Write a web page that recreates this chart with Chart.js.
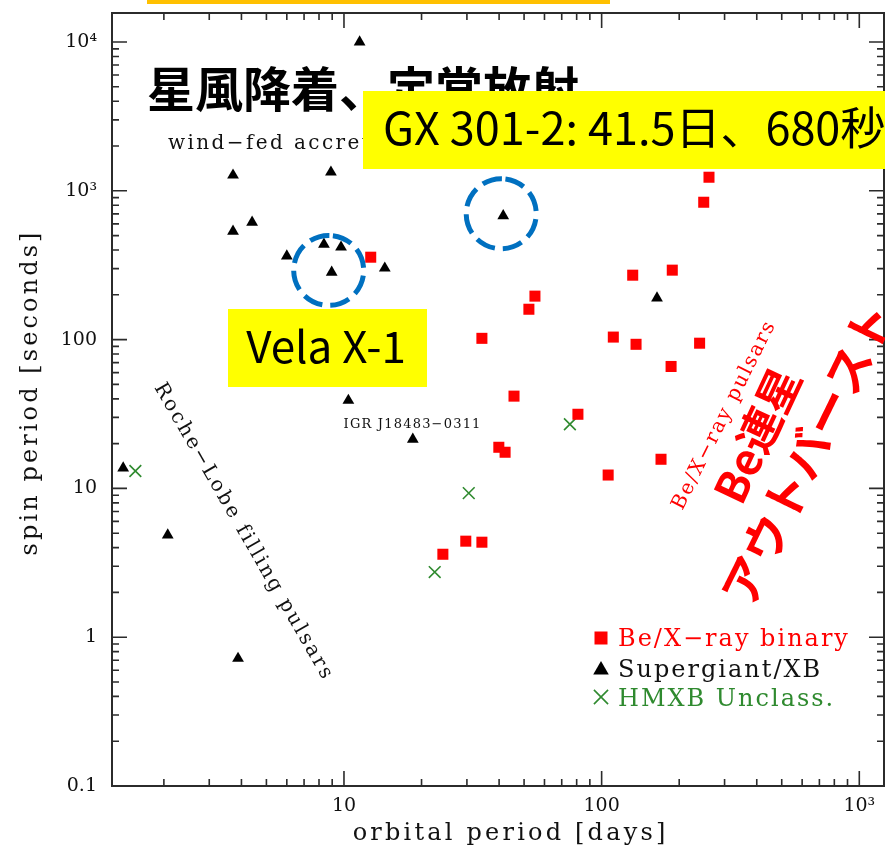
<!DOCTYPE html>
<html>
<head>
<meta charset="utf-8">
<script src="https://cdn.jsdelivr.net/npm/chart.js@4.4.1/dist/chart.umd.min.js"></script>
<style>
  html, body { margin: 0; padding: 0; background: #ffffff; overflow: hidden; }
  canvas { display: block; }
</style>
</head>
<body>
<canvas id="corbet" width="885" height="858"></canvas>
<script>
// Be/X-ray binaries: orbital period [days], spin period [s]
const beOrbit = [12.7, 261, 249, 132, 188, 55.1, 52.2, 34.3, 111, 136, 240, 186, 45.7, 80.9, 39.9, 42.2, 170, 106, 24.2, 29.7, 34.3];
const beSpin  = [358, 1234, 838, 271, 293, 196, 160, 102, 104, 93, 94.6, 66, 41.7, 31.5, 18.9, 17.5, 15.7, 12.3, 3.61, 4.42, 4.35];

// Supergiant X-ray binaries
const sgOrbit = [11.5, 3.71, 8.9, 3.71, 4.4, 6.0, 8.36, 9.74, 8.96, 14.4, 10.4, 18.5, 41.5, 164, 1.39, 2.07, 3.88];
const sgSpin  = [10000, 1273, 1334, 535, 615, 364, 437, 418, 283, 302, 39, 21.4, 680, 190, 13.7, 4.85, 0.72];

// Unclassified HMXBs
const unOrbit = [1.55, 22.5, 30.5, 75.3];
const unSpin  = [13.1, 2.74, 9.29, 27.0];

const seriesNames = ['Be/X\u2212ray binary', 'Supergiant/XB', 'HMXB Unclass.'];

const xTicks = [10, 100, 1000];
const xTickLabels = ['10', '100', '10\u00b3'];
const yTicks = [0.1, 1, 10, 100, 1000, 10000];
const yTickLabels = ['0.1', '1', '10', '100', '10\u00b3', '10\u2074'];

const xRange = [1.258, 1247];
const yRange = [0.1, 15670];

// plot frame in canvas pixels
const AREA = { left: 112, top: 13, right: 884, bottom: 786 };

const RED = '#ff0000';
const GREEN = '#2f8a2f';
const INK = '#111111';
const SERIF = '"DejaVu Serif", serif';
const CJK = '"Noto Sans CJK JP", sans-serif';

const toPoints = (xs, ys) => xs.map((x, i) => ({ x: x, y: ys[i] }));

// draw text char by char with extra tracking
function spaced(ctx, text, x, y, sp, align) {
  const chars = Array.from(text);
  const ws = chars.map(c => ctx.measureText(c).width);
  const total = ws.reduce((a, b) => a + b, 0) + sp * (chars.length - 1);
  let cx = align === 'center' ? x - total / 2 : (align === 'right' ? x - total : x);
  const prev = ctx.textAlign;
  ctx.textAlign = 'left';
  chars.forEach((c, i) => { ctx.fillText(c, cx, y); cx += ws[i] + sp; });
  ctx.textAlign = prev;
  return total;
}

function rotatedText(ctx, text, cx, cy, deg, sp) {
  ctx.save();
  ctx.translate(cx, cy);
  ctx.rotate(deg * Math.PI / 180);
  ctx.textBaseline = 'middle';
  if (sp) spaced(ctx, text, 0, 0, sp, 'center');
  else { ctx.textAlign = 'center'; ctx.fillText(text, 0, 0); }
  ctx.restore();
}

function marker(ctx, style, r, x, y, fill, stroke, bw) {
  ctx.save();
  ctx.fillStyle = fill; ctx.strokeStyle = stroke; ctx.lineWidth = bw;
  if (Chart.helpers && Chart.helpers.drawPoint) {
    Chart.helpers.drawPoint(ctx, { pointStyle: style, radius: r, rotation: 0, borderWidth: bw }, x, y);
  }
  ctx.restore();
}

// frame with inward major/minor ticks on all four sides
const frameTicks = {
  id: 'frameTicks',
  afterDatasetsDraw(chart) {
    const { ctx, chartArea: a, scales: { x, y } } = chart;
    ctx.save();
    ctx.strokeStyle = '#2b2b2b';
    ctx.lineWidth = 1.6;
    const major = 15, minor = 7;
    for (let d = 1; d <= 1000; d *= 10) {
      for (let m = 1; m <= 9; m++) {
        const v = d * m;
        if (v < xRange[0] || v > xRange[1]) continue;
        const px = x.getPixelForValue(v);
        const len = m === 1 ? major : minor;
        ctx.beginPath();
        ctx.moveTo(px, a.bottom); ctx.lineTo(px, a.bottom - len);
        ctx.moveTo(px, a.top); ctx.lineTo(px, a.top + len);
        ctx.stroke();
      }
    }
    for (let d = 0.1; d <= 10000; d *= 10) {
      for (let m = 1; m <= 9; m++) {
        const v = d * m;
        if (v < yRange[0] * 0.999 || v > yRange[1]) continue;
        const py = y.getPixelForValue(v);
        const len = m === 1 ? major : minor;
        ctx.beginPath();
        ctx.moveTo(a.left, py); ctx.lineTo(a.left + len, py);
        ctx.moveTo(a.right, py); ctx.lineTo(a.right - len, py);
        ctx.stroke();
      }
    }
    ctx.lineWidth = 2;
    ctx.strokeRect(a.left, a.top, a.right - a.left, a.bottom - a.top);
    ctx.restore();
  }
};

const notes = {
  id: 'notes',
  afterDraw(chart) {
    const { ctx, scales: { x, y } } = chart;
    ctx.save();

    // axis titles
    ctx.fillStyle = INK;
    ctx.font = '24px ' + SERIF;
    ctx.textBaseline = 'alphabetic';
    spaced(ctx, 'orbital period [days]', 509, 840, 3.2, 'center');
    rotatedText(ctx, 'spin period [seconds]', 31, 394, -90, 3.1);

    // banner edge at the top
    ctx.fillStyle = '#ffc000';
    ctx.fillRect(147, 0, 463, 4);

    // wind-fed region
    ctx.fillStyle = INK;
    ctx.font = '20px ' + SERIF;
    ctx.textBaseline = 'alphabetic';
    spaced(ctx, 'wind\u2212fed accretion', 168, 149, 2.4, 'left');

    ctx.fillStyle = '#000';
    ctx.font = 'bold 48px ' + CJK;
    ctx.textAlign = 'left';
    ctx.fillText('星風降着、定常放射', 147, 107);

    // Roche-lobe region
    ctx.fillStyle = INK;
    ctx.font = '20px ' + SERIF;
    rotatedText(ctx, 'Roche\u2212Lobe filling pulsars', 243, 531, 60, 2.5);

    // IGR J18483-0311 label
    ctx.font = '13px ' + SERIF;
    ctx.textBaseline = 'middle';
    spaced(ctx, 'IGR J18483\u22120311', 412, 425, 1.2, 'center');

    // Be region
    ctx.fillStyle = RED;
    ctx.font = '20px ' + SERIF;
    rotatedText(ctx, 'Be/X\u2212ray pulsars', 724, 416, -63.4, 2);
    ctx.font = 'bold 44px ' + CJK;
    rotatedText(ctx, 'Be連星', 757, 435, -65);
    ctx.font = 'bold 47px ' + CJK;
    rotatedText(ctx, 'アウトバースト', 807, 454, -64);

    // highlighted sources
    const gx = { px: x.getPixelForValue(41.5), py: y.getPixelForValue(680) };
    const vela = { px: x.getPixelForValue(8.96), py: y.getPixelForValue(283) };
    ctx.strokeStyle = '#0070c0';
    ctx.lineWidth = 5;
    ctx.setLineDash([20, 8]);
    ctx.beginPath(); ctx.arc(vela.px - 3, vela.py - 2, 35, -Math.PI / 2 + 0.12, Math.PI * 1.5 + 0.12); ctx.stroke();
    ctx.beginPath(); ctx.arc(gx.px - 2, gx.py - 2, 35, -Math.PI / 2 + 0.12, Math.PI * 1.5 + 0.12); ctx.stroke();
    ctx.setLineDash([]);

    ctx.fillStyle = '#ffff00';
    ctx.fillRect(363, 91, 530, 78);
    ctx.fillRect(228, 309, 199, 78);
    ctx.fillStyle = '#000';
    ctx.textBaseline = 'alphabetic';
    ctx.textAlign = 'left';
    ctx.font = '45px ' + CJK;
    ctx.fillText('GX 301-2: 41.5日、680秒', 383, 145);
    ctx.textAlign = 'center';
    ctx.font = '44px ' + CJK;
    ctx.fillText('Vela X-1', 326, 363);

    // legend
    const rows = [
      { y: 638, base: 646, style: 'rect', r: 9.2, fill: RED, stroke: RED, bw: 0, color: RED },
      { y: 670, base: 677, style: 'triangle', r: 9, fill: '#000', stroke: '#000', bw: 0, color: INK },
      { y: 697, base: 706, style: 'crossRot', r: 10, fill: GREEN, stroke: GREEN, bw: 1.6, color: GREEN }
    ];
    ctx.font = '24px ' + SERIF;
    ctx.textBaseline = 'alphabetic';
    chart.data.datasets.forEach((ds, i) => {
      const row = rows[i];
      marker(ctx, row.style, row.r, 601, row.y, row.fill, row.stroke, row.bw);
      ctx.fillStyle = row.color;
      spaced(ctx, ds.label, 618, row.base, 2, 'left');
    });

    ctx.restore();
  }
};

new Chart(document.getElementById('corbet'), {
  type: 'scatter',
  data: {
    datasets: [
      { label: seriesNames[0], data: toPoints(beOrbit, beSpin), pointStyle: 'rect', pointRadius: 7.8,
        backgroundColor: RED, borderColor: RED, borderWidth: 0 },
      { label: seriesNames[1], data: toPoints(sgOrbit, sgSpin), pointStyle: 'triangle', pointRadius: 6.8,
        backgroundColor: '#000', borderColor: '#000', borderWidth: 0 },
      { label: seriesNames[2], data: toPoints(unOrbit, unSpin), pointStyle: 'crossRot', pointRadius: 8.3,
        backgroundColor: GREEN, borderColor: GREEN, borderWidth: 1.6 }
    ]
  },
  options: {
    responsive: false,
    animation: false,
    devicePixelRatio: 1,
    layout: { autoPadding: false, padding: { left: 0, top: AREA.top, right: 885 - AREA.right, bottom: 0 } },
    plugins: { legend: { display: false }, tooltip: { enabled: false } },
    scales: {
      x: {
        type: 'logarithmic', position: 'bottom', min: xRange[0], max: xRange[1], bounds: 'data',
        grid: { display: false, drawTicks: false }, border: { display: false },
        afterBuildTicks: s => { s.ticks = xTicks.map(v => ({ value: v })); },
        afterFit: s => { s.height = 858 - AREA.bottom; s.paddingLeft = 0; s.paddingRight = 0; },
        ticks: {
          callback: (v, i) => xTickLabels[i], autoSkip: false, maxRotation: 0, minRotation: 0,
          padding: 9, color: INK, font: { family: 'DejaVu Serif', size: 19 }
        }
      },
      y: {
        type: 'logarithmic', position: 'left', min: yRange[0], max: yRange[1], bounds: 'data',
        grid: { display: false, drawTicks: false }, border: { display: false },
        afterBuildTicks: s => { s.ticks = yTicks.map(v => ({ value: v })); },
        afterFit: s => { s.width = AREA.left; s.paddingTop = 0; s.paddingBottom = 0; },
        ticks: {
          callback: (v, i) => yTickLabels[i], autoSkip: false,
          padding: 15, color: INK, font: { family: 'DejaVu Serif', size: 19 }
        }
      }
    }
  },
  plugins: [frameTicks, notes]
});
</script>
</body>
</html>
